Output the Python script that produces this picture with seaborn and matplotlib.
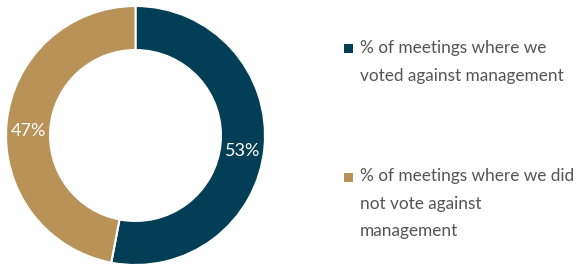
import matplotlib
matplotlib.use("Agg")
import matplotlib.pyplot as plt
import seaborn as sns
import numpy as np
from matplotlib.patches import Rectangle

categories = ["% of meetings where we\nvoted against management",
              "% of meetings where we did\nnot vote against\nmanagement"]
values = [53, 47]
pct_labels = ["53%", "47%"]
colors = ["#023F56", "#B99257"]

sns.set_theme(style="white")
plt.rcParams['font.family'] = ['Lato', 'DejaVu Sans']

W, H = 581, 267
fig = plt.figure(figsize=(W / 100, H / 100), dpi=100)
cx, cy, R = 135.5, 135.5, 129.5
ax = fig.add_axes([(cx - R) / W, (H - cy - R) / H, 2 * R / W, 2 * R / H])

wedges, _ = ax.pie(values, colors=colors, startangle=90, counterclock=False,
                   radius=1.0,
                   wedgeprops=dict(width=0.34, edgecolor="white", linewidth=1.5))
ax.set_xlim(-1, 1)
ax.set_ylim(-1, 1)
ax.set_aspect("equal")
ax.axis("off")

start = 90.0
total = sum(values)
for v, lab in zip(values, pct_labels):
    span = 360.0 * v / total
    mid = np.deg2rad(start - span / 2)
    r = 0.83
    ax.text(r * np.cos(mid), r * np.sin(mid) - 0.04, lab, ha="center", va="center",
            color="white", fontsize=13, fontweight="normal", zorder=10)
    start -= span

text_x = 360 / W
ys = [49, 177]
for lab, c, y in zip(categories, colors, ys):
    fig.text(text_x, 1 - (y - 9) / H, lab, ha="left", va="top", fontsize=12.4,
             color="#555555", linespacing=1.9)
    fig.patches.append(Rectangle((344 / W, 1 - (y + 4.5) / H), 9 / W, 9 / H,
                                 transform=fig.transFigure, facecolor=c,
                                 edgecolor="none"))

fig.savefig("out.png", dpi=100)
